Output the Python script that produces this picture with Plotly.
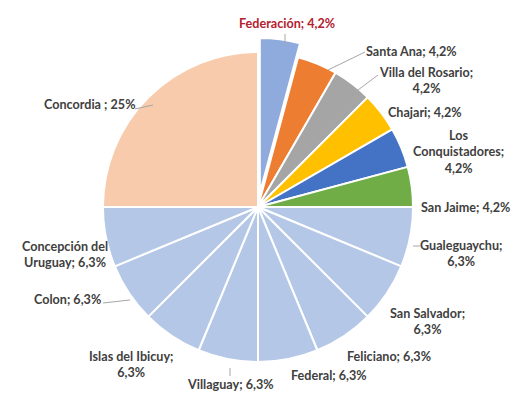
import plotly.graph_objects as go

labels = ["Federación", "Santa Ana", "Villa del Rosario", "Chajari", "Los Conquistadores",
          "San Jaime", "Gualeguaychu", "San Salvador", "Feliciano", "Federal", "Villaguay",
          "Islas del Ibicuy", "Colon", "Concepción del Uruguay", "Concordia"]
values = [2, 2, 2, 2, 2, 2, 3, 3, 3, 3, 3, 3, 3, 3, 12]
pct_text = ["4,2%", "4,2%", "4,2%", "4,2%", "4,2%", "4,2%", "6,3%", "6,3%", "6,3%", "6,3%",
            "6,3%", "6,3%", "6,3%", "6,3%", "25%"]
label_text = ["Federación; 4,2%", "Santa Ana; 4,2%", "Villa del Rosario;<br>4,2%", "Chajari; 4,2%",
              "Los<br>Conquistadores;<br>4,2%", "San Jaime; 4,2%", "Gualeguaychu;<br>6,3%",
              "San Salvador;<br>6,3%", "Feliciano; 6,3%", "Federal; 6,3%", "Villaguay; 6,3%",
              "Islas del Ibicuy;<br>6,3%", "Colon; 6,3%", "Concepción del<br>Uruguay; 6,3%",
              "Concordia ; 25%"]

colors = ["#8FAADC", "#ED7D31", "#A5A5A5", "#FFC000", "#4472C4", "#70AD47",
          "#B4C7E7", "#B4C7E7", "#B4C7E7", "#B4C7E7", "#B4C7E7", "#B4C7E7", "#B4C7E7", "#B4C7E7",
          "#F8CBAD"]
pulls = [0.09] + [0] * 14

W, H = 527, 399
# label centre positions in pixels (layout only)
label_pos = [(279, 15), (403, 43), (418, 73), (417, 105), (450, 144), (457, 199), (453, 245),
             (419, 313), (381, 348), (321, 367), (222, 376), (123, 356), (59, 291), (57, 246),
             (81, 96)]
# leader lines (px)
leaders = {0: ((277, 38), (277, 26)), 1: ((320, 62), (357, 44)), 2: ((350, 82), (370, 67)),
           14: ((145, 97), (127, 101)), 12: ((122, 292), (95, 295)), 10: ((222, 360), (222, 368)),
           6: ((405, 238), (412, 238))}

fig = go.Figure(go.Pie(
    labels=labels, values=values, sort=False, direction="clockwise", rotation=0,
    marker=dict(colors=colors, line=dict(color="white", width=2)),
    pull=pulls, textinfo="none", hoverinfo="label+percent", showlegend=False,
    domain=dict(x=[81 / W, 419 / W], y=[1 - 368 / H, 1 - 30 / H]),
))

annotations = []
for i, (t, (px, py)) in enumerate(zip(label_text, label_pos)):
    annotations.append(dict(
        x=px / W, y=1 - py / H, xref="paper", yref="paper", text="<b>" + t + "</b>",
        showarrow=False, xanchor="center", yanchor="middle",
        font=dict(family="Lato", size=12.6, color="#B4202E" if i == 0 else "#404040"),
    ))
shapes = []
for i, ((x0, y0), (x1, y1)) in leaders.items():
    shapes.append(dict(type="line", xref="paper", yref="paper", x0=x0 / W, y0=1 - y0 / H,
                       x1=x1 / W, y1=1 - y1 / H, line=dict(color="#A6A6A6", width=1)))

fig.update_layout(
    width=W, height=H, margin=dict(l=0, r=0, t=0, b=0),
    paper_bgcolor="white", plot_bgcolor="white",
    annotations=annotations, shapes=shapes,
)
fig.write_html("out.html")
